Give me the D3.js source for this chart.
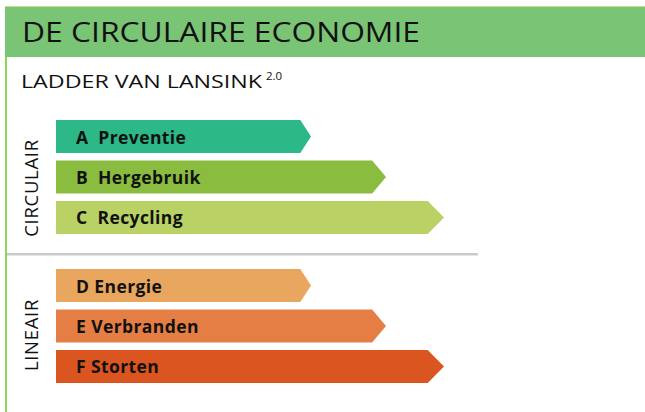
<!DOCTYPE html>
<html>
<head>
<meta charset="utf-8">
<script src="https://cdn.jsdelivr.net/npm/d3@7"></script>
<style>
  body { margin: 0; background: #fff; }
  svg text { font-family: "Open Sans", Lato, sans-serif; fill: #111; }
</style>
</head>
<body>
<div id="chart"></div>
<script>
// ---------------- data ----------------
const titleText = "DE CIRCULAIRE ECONOMIE"
const subtitleText = "LADDER VAN LANSINK"
const subtitleSup = "2.0"

const circularLabels = ["A  Preventie", "B  Hergebruik", "C  Recycling"]
const circularValues = [255, 330, 388]
const circularColors = ["#2cb887", "#8abc3f", "#b9d165"]

const linearLabels = ["D Energie", "E Verbranden", "F Storten"]
const linearValues = [255, 330, 388]
const linearColors = ["#e9a65e", "#e47e45", "#da5520"]

const groupNames = ["CIRCULAIR", "LINEAIR"]

// ---------------- constants ----------------
const WIDTH = 645
const HEIGHT = 412

const svg = d3.select("#chart").append("svg")
  .attr("width", WIDTH)
  .attr("height", HEIGHT)

// frame: header band + left green border
svg.append("rect")
  .attr("x", 5).attr("y", 6).attr("width", WIDTH - 5).attr("height", 1.5)
  .attr("fill", "#c8e08a")
svg.append("rect")
  .attr("x", 5).attr("y", 7).attr("width", WIDTH - 5).attr("height", 50)
  .attr("fill", "#7ac475")
svg.append("rect")
  .attr("x", 5).attr("y", 57).attr("width", 2).attr("height", HEIGHT - 57)
  .attr("fill", "#8fd45a")

// the original font is much wider than what we have, so stretch to fit
svg.append("text")
  .attr("x", 22).attr("y", 42)
  .attr("textLength", 398)
  .attr("lengthAdjust", "spacingAndGlyphs")
  .style("font-size", "28px")
  .text(titleText)

svg.append("text")
  .attr("x", 21).attr("y", 88)
  .attr("textLength", 241)
  .attr("lengthAdjust", "spacingAndGlyphs")
  .style("font-size", "18.5px")
  .text(subtitleText)
svg.append("text")
  .attr("x", 266).attr("y", 80)
  .style("font-size", "11.5px")
  .text(subtitleSup)

// separator
svg.append("rect")
  .attr("x", 7).attr("y", 253).attr("width", 471).attr("height", 2.5)
  .attr("fill", "#c9c9c9")

// ---------------- scales ----------------
const xScale = d3.scaleLinear().domain([0, 400]).range([56, 456])

function drawGroup(labels, values, colors, yRange, name, shift) {
  const yScale = d3.scaleBand()
    .domain(labels)
    .range(yRange)
    .paddingInner(0.185)
    .paddingOuter(0)

  const rows = labels.map((l, i) => ({ label: l, value: values[i], color: colors[i] }))
  const h = yScale.bandwidth()

  svg.append("g").selectAll("polygon")
    .data(rows)
    .enter()
    .append("polygon")
    .attr("points", function(d) {
      let x0 = xScale(0)
      let x1 = xScale(d.value)
      let tip = (x1 - x0) * 0.042
      let y = yScale(d.label)
      return [[x0, y], [x1 - tip, y], [x1, y + h / 2], [x1 - tip, y + h], [x0, y + h]].join(" ")
    })
    .attr("fill", d => d.color)

  svg.append("g").selectAll("text")
    .data(rows)
    .enter()
    .append("text")
    .attr("x", 76)
    .attr("y", d => yScale(d.label) + h / 2 + 7)
    .style("font-size", "17.5px")
    .style("font-weight", "bold")
    .style("letter-spacing", "0.4px")
    .style("white-space", "pre")
    .attr("xml:space", "preserve")
    .text(d => d.label)

  // vertical group name
  let cy = (yRange[0] + yRange[1]) / 2
  svg.append("text")
    .attr("transform", `translate(38,${cy + shift}) rotate(-90)`)
    .attr("text-anchor", "middle")
    .style("font-size", "18.5px")
    .style("letter-spacing", "0.7px")
    .text(name)
}

drawGroup(circularLabels, circularValues, circularColors, [120, 234], groupNames[0], 11)
drawGroup(linearLabels, linearValues, linearColors, [269, 383], groupNames[1], 9)
</script>
</body>
</html>
